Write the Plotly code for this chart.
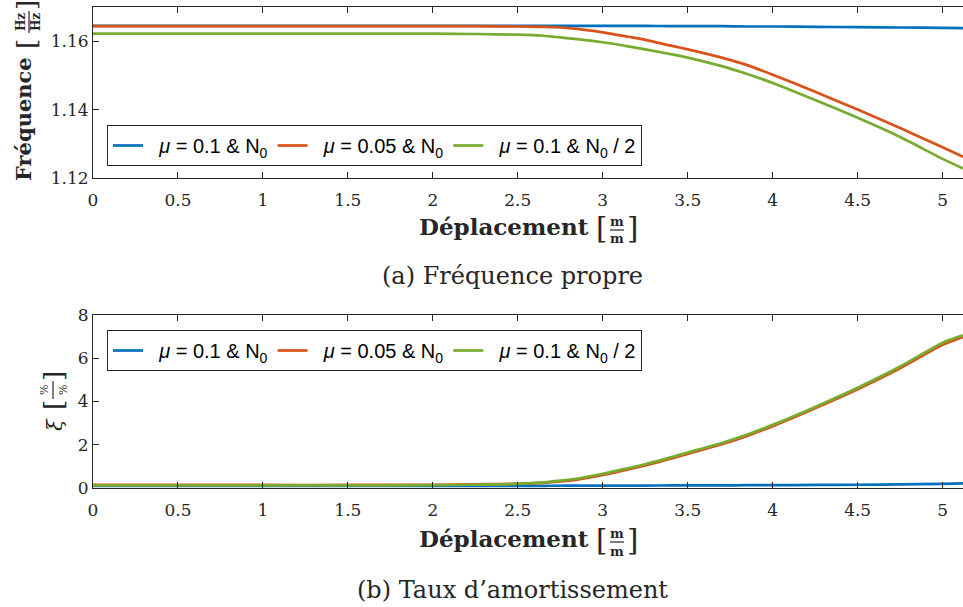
import plotly.graph_objects as go

# ---------------- data ----------------
x_vals = [0, 0.5, 1, 1.5, 2, 2.25, 2.5, 2.65, 2.75, 2.85, 3.0, 3.15, 3.25, 3.4, 3.5,
          3.7, 3.85, 4.0, 4.25, 4.5, 4.75, 5.0, 5.12]

freq_mu01_N0 = [1.1645, 1.1645, 1.1645, 1.1645, 1.1645, 1.1645, 1.1645, 1.1645, 1.1645,
                1.1645, 1.1645, 1.1645, 1.1645, 1.1644, 1.1644, 1.1644, 1.1643, 1.1643,
                1.1642, 1.1641, 1.1640, 1.1639, 1.1638]
freq_mu005_N0 = [1.1644, 1.1644, 1.1644, 1.1644, 1.1644, 1.1644, 1.1643, 1.1642, 1.1640,
                 1.1636, 1.1626, 1.1613, 1.1604, 1.1587, 1.1576, 1.1552, 1.1530, 1.1502,
                 1.1452, 1.1400, 1.1346, 1.1290, 1.1262]
freq_mu01_N02 = [1.1622, 1.1622, 1.1622, 1.1622, 1.1622, 1.1621, 1.1619, 1.1616, 1.1611,
                 1.1606, 1.1597, 1.1585, 1.1576, 1.1562, 1.1552, 1.1527, 1.1504, 1.1478,
                 1.1428, 1.1376, 1.1320, 1.1256, 1.1228]

xi_mu01_N0 = [0.10, 0.10, 0.10, 0.10, 0.10, 0.10, 0.10, 0.10, 0.11, 0.11, 0.11, 0.11,
              0.11, 0.12, 0.12, 0.12, 0.13, 0.13, 0.14, 0.15, 0.17, 0.19, 0.21]
xi_mu005_N0 = [0.14, 0.14, 0.14, 0.14, 0.15, 0.17, 0.20, 0.24, 0.30, 0.39, 0.60, 0.86,
               1.04, 1.36, 1.58, 2.02, 2.41, 2.86, 3.69, 4.57, 5.54, 6.62, 6.98]
xi_mu01_N02 = [0.12, 0.12, 0.12, 0.12, 0.13, 0.15, 0.19, 0.26, 0.34, 0.44, 0.66, 0.92,
               1.10, 1.42, 1.64, 2.08, 2.47, 2.92, 3.75, 4.64, 5.62, 6.72, 7.06]

series_names = ["\u00a0\u00a0<i>μ</i> = 0.1 &amp; N<sub>0</sub>",
                "\u00a0\u00a0<i>μ</i> = 0.05 &amp; N<sub>0</sub>",
                "\u00a0\u00a0<i>μ</i> = 0.1 &amp; N<sub>0</sub> / 2"]
series_colors = ["#0072BD", "#D95319", "#77AC30"]

x_ticks = [0, 0.5, 1, 1.5, 2, 2.5, 3, 3.5, 4, 4.5, 5]
x_tick_text = ["0", "0.5", "1", "1.5", "2", "2.5", "3", "3.5", "4", "4.5", "5"]
freq_ticks = [1.12, 1.14, 1.16]
xi_ticks = [0, 2, 4, 6, 8]

# ---------------- figure ----------------
W, H = 963, 607
fig = go.Figure()

top_series = [freq_mu01_N0, freq_mu005_N0, freq_mu01_N02]
bot_series = [xi_mu01_N0, xi_mu005_N0, xi_mu01_N02]

for name, col, ys in zip(series_names, series_colors, top_series):
    fig.add_trace(go.Scatter(x=x_vals, y=ys, mode="lines", name=name,
                             line=dict(color=col, width=2.7, shape="spline", smoothing=0.6),
                             xaxis="x", yaxis="y", legend="legend"))
for name, col, ys in zip(series_names, series_colors, bot_series):
    fig.add_trace(go.Scatter(x=x_vals, y=ys, mode="lines", name=name,
                             line=dict(color=col, width=2.7, shape="spline", smoothing=0.6),
                             xaxis="x2", yaxis="y2", legend="legend2"))

def py(p):
    return 1 - p / H

def px(p):
    return p / W

tickfont = dict(family="DejaVu Serif", size=17, color="#262626")
axcommon = dict(showgrid=False, zeroline=False, showline=True, linecolor="#262626",
                linewidth=1, ticks="inside", ticklen=6, tickcolor="#262626",
                tickfont=tickfont, automargin=False)

legfont = dict(family="Liberation Sans", size=20, color="black")
fig.update_layout(
    width=W, height=H,
    margin=dict(l=0, r=0, t=0, b=0),
    paper_bgcolor="white", plot_bgcolor="white",
    xaxis=dict(domain=[px(93), 1], anchor="y", range=[0, 5.12], tickvals=x_ticks,
               ticktext=x_tick_text, mirror="ticks", ticklabelstandoff=7, **axcommon),
    yaxis=dict(domain=[py(178), py(7)], anchor="x", range=[1.12, 1.17],
               tickvals=freq_ticks, tickformat=".2f", mirror=False, **axcommon),
    xaxis2=dict(domain=[px(93), 1], anchor="y2", range=[0, 5.12], tickvals=x_ticks,
                ticktext=x_tick_text, mirror="ticks", ticklabelstandoff=7, **axcommon),
    yaxis2=dict(domain=[py(488), py(315)], anchor="x2", range=[0, 8],
                tickvals=xi_ticks, mirror=False, **axcommon),
    legend=dict(orientation="h", x=px(107), y=py(125), xanchor="left", yanchor="top",
                bordercolor="#262626", borderwidth=1, bgcolor="white",
                font=legfont, itemwidth=30, tracegroupgap=0),
    legend2=dict(orientation="h", x=px(107), y=py(330), xanchor="left", yanchor="top",
                 bordercolor="#262626", borderwidth=1, bgcolor="white",
                 font=legfont, itemwidth=30, tracegroupgap=0),
    showlegend=True,
)

serif = "DejaVu Serif"
C = "#262626"
ann = []
def T(text, x, y, size, angle=0):
    ann.append(dict(text=text, x=px(x), y=py(y), xref="paper", yref="paper",
                    showarrow=False, xanchor="center", yanchor="middle",
                    textangle=angle, font=dict(family=serif, size=size, color=C)))

shapes = []
def L(x0, y0, x1, y1, w=1.2):
    shapes.append(dict(type="line", xref="paper", yref="paper", x0=px(x0), y0=py(y0),
                       x1=px(x1), y1=py(y1), line=dict(color=C, width=w)))

# top y title: Fréquence [Hz/Hz]
T("<b>Fréquence</b>", 24, 119, 21, -90)
T("[", 27, 44, 26, -90)
T("<b>Hz</b>", 21, 22, 12, -90)
T("<b>Hz</b>", 36, 22, 12, -90)
L(29, 11, 29, 33)
T("]", 27, 5, 26, -90)

# bottom y title: ξ [%/%]
T("<i>ξ</i>", 55, 425, 21, -90)
T("[", 54, 405, 26, -90)
T("%", 44, 390, 11, -90)
T("%", 63, 390, 11, -90)
L(53, 381, 53, 399)
T("]", 54, 376, 26, -90)

# x titles: Déplacement [m/m]
for yc in (226, 538):
    T("<b>Déplacement</b>", 504, yc, 23)
    T("[", 601, yc + 2, 29)
    T("<b>m</b>", 617, yc - 5, 13)
    T("<b>m</b>", 617, yc + 13, 13)
    L(610, yc + 4, 624, yc + 4)
    T("]", 632, yc + 2, 29)

# captions
T("(a) Fréquence propre", 512, 276, 24)
T("(b) Taux d’amortissement", 512, 590, 24)

fig.update_layout(annotations=ann, shapes=shapes)

fig.write_html("out.html", config={"displayModeBar": False},
               post_script="document.body.style.margin='0px';")
